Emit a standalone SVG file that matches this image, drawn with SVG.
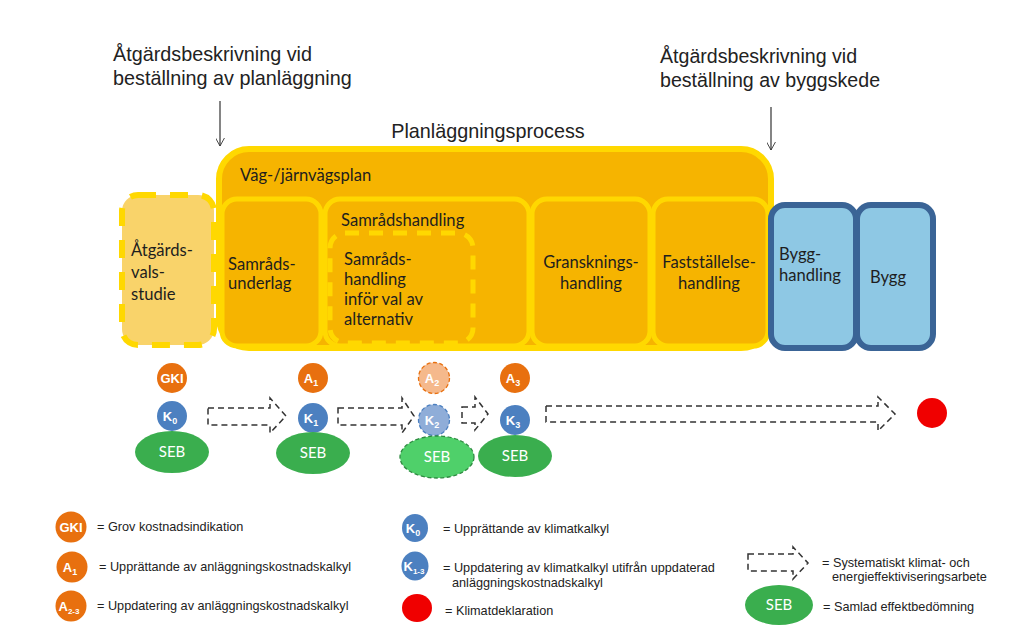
<svg xmlns="http://www.w3.org/2000/svg" width="1030" height="644" viewBox="0 0 1030 644">
<defs>
<style>
.t{font-family:"Liberation Sans",Arial,sans-serif;fill:#222}
.c{font-family:Lato,"Open Sans","Liberation Sans",sans-serif;fill:#1e1e1e;font-size:16.6px}
.w{font-family:"Liberation Sans",Arial,sans-serif;fill:#fff;font-weight:bold;font-size:13px;text-anchor:middle}
.seb{font-family:Lato,"Open Sans","Liberation Sans",sans-serif;fill:#fff;font-size:15px;text-anchor:middle}
.box{fill:#F6B400;stroke:#FFD800;stroke-width:5}
.blue{fill:#8EC8E4;stroke:#3A6496;stroke-width:6}
.or{fill:#E8700F}
.bl{fill:#4C80C0}
.gr{fill:#3AAE4E}
.da{fill:none;stroke:#333;stroke-width:1.5;stroke-dasharray:6 4}
.lg{font-family:"Liberation Sans",Arial,sans-serif;fill:#222;font-size:12.7px}
</style>
<marker id="ah" viewBox="0 0 10 10" refX="9" refY="5" markerWidth="9" markerHeight="9" markerUnits="userSpaceOnUse" orient="auto"><path d="M0,0 L9,5 L0,10" fill="none" stroke="#333" stroke-width="1"/></marker>
</defs>
<rect width="1030" height="644" fill="#fff"/>

<g id="top-labels">
<text class="t" x="113" y="61" font-size="19.8">Åtgärdsbeskrivning vid</text>
<text class="t" x="113" y="85" font-size="19.8">beställning av planläggning</text>
<text class="t" x="660" y="63" font-size="19.6">Åtgärdsbeskrivning vid</text>
<text class="t" x="660" y="87" font-size="19.6">beställning av byggskede</text>
<text class="t" x="488" y="138" font-size="19.8" text-anchor="middle">Planläggningsprocess</text>
</g>

<g id="connectors">
<line x1="220" y1="101" x2="220" y2="146" stroke="#333" stroke-width="1.2" marker-end="url(#ah)"/>
<line x1="771" y1="107" x2="771" y2="150" stroke="#333" stroke-width="1.2" marker-end="url(#ah)"/>
<path class="da" d="M208,408 H270 V398 L286,416 L270,433 V425 H208 Z"/>
<path class="da" d="M338,408 H402 V398 L414,416 L402,433 V425 H338 Z"/>
<path class="da" d="M462,407 H475 V397 L488,414 L475,430 V423 H462 Z"/>
<path class="da" d="M546,406 H878 V397 L895,414 L878,431 V422 H546 Z"/>
</g>

<g id="planlaggning">
<rect x="219" y="149" width="552" height="199" rx="30" fill="#F6B400" stroke="#FFD800" stroke-width="6"/>
<text class="c" x="240" y="181">Väg-/järnvägsplan</text>
</g>

<g id="atgardsvalsstudie">
<rect x="122" y="195" width="92" height="150" rx="16" fill="#F9D36A" stroke="#FFD800" stroke-width="6" stroke-dasharray="18 14"/>
<text class="c" x="131" y="256" font-size="16">Åtgärds-</text>
<text class="c" x="131" y="278" font-size="16">vals-</text>
<text class="c" x="131" y="300" font-size="16">studie</text>
</g>

<g id="samradsunderlag">
<rect class="box" x="222" y="199" width="99" height="147" rx="15"/>
<text class="c" x="228" y="270" font-size="16">Samråds-</text>
<text class="c" x="228" y="289" font-size="16">underlag</text>
</g>

<g id="samradshandling">
<rect class="box" x="325" y="199" width="204" height="147" rx="15"/>
<text class="c" x="341" y="226">Samrådshandling</text>
</g>

<g id="samradshandling-val">
<rect x="330" y="233" width="143" height="110" rx="15" fill="#F6B400" stroke="#FFD800" stroke-width="5" stroke-dasharray="14 10"/>
<text class="c" x="344" y="265" font-size="15">Samråds-</text>
<text class="c" x="344" y="285" font-size="15">handling</text>
<text class="c" x="344" y="305" font-size="15">inför val av</text>
<text class="c" x="344" y="325" font-size="15">alternativ</text>
</g>

<g id="granskningshandling">
<rect class="box" x="532" y="199" width="118" height="147" rx="15"/>
<text class="c" x="591" y="268" text-anchor="middle">Gransknings-</text>
<text class="c" x="591" y="289" text-anchor="middle">handling</text>
</g>

<g id="faststallelsehandling">
<rect class="box" x="653" y="199" width="115" height="147" rx="15"/>
<text class="c" x="709" y="268" text-anchor="middle">Fastställelse-</text>
<text class="c" x="709" y="289" text-anchor="middle">handling</text>
</g>

<g id="bygghandling">
<rect class="blue" x="771" y="205" width="85" height="143" rx="14"/>
<text class="c" x="779" y="260">Bygg-</text>
<text class="c" x="779" y="281">handling</text>
</g>

<g id="bygg">
<rect class="blue" x="857" y="205" width="76" height="143" rx="14"/>
<text class="c" x="888" y="283" text-anchor="middle">Bygg</text>
</g>

<g id="step0">
<circle class="or" cx="172" cy="378" r="15"/>
<text class="w" x="172" y="383">GKI</text>
<circle class="bl" cx="172" cy="416" r="15"/>
<text class="w" x="170" y="421">K<tspan font-size="9" dy="3">0</tspan></text>
<ellipse class="gr" cx="172" cy="452" rx="37" ry="21"/>
<text class="seb" x="172" y="457">SEB</text>
</g>

<g id="step1">
<circle class="or" cx="313" cy="378" r="15"/>
<text class="w" x="311" y="383">A<tspan font-size="9" dy="3">1</tspan></text>
<circle class="bl" cx="313" cy="418" r="15"/>
<text class="w" x="311" y="423">K<tspan font-size="9" dy="3">1</tspan></text>
<ellipse class="gr" cx="313" cy="453" rx="37" ry="21"/>
<text class="seb" x="313" y="458">SEB</text>
</g>

<g id="step2">
<circle cx="434" cy="378" r="15.5" fill="#F5B98C" stroke="#E8700F" stroke-width="1.3" stroke-dasharray="4 2.5"/>
<text class="w" x="432" y="383">A<tspan font-size="9" dy="3">2</tspan></text>
<circle cx="434" cy="420" r="15.5" fill="#8FADD8" stroke="#4C80C0" stroke-width="1.3" stroke-dasharray="4 2.5"/>
<text class="w" x="432" y="425">K<tspan font-size="9" dy="3">2</tspan></text>
<ellipse cx="437" cy="457" rx="37" ry="21" fill="#4FD06A" stroke="#2E8A40" stroke-width="1.3" stroke-dasharray="4 2.5"/>
<text class="seb" x="437" y="462">SEB</text>
</g>

<g id="step3">
<circle class="or" cx="515" cy="378" r="15"/>
<text class="w" x="513" y="383">A<tspan font-size="9" dy="3">3</tspan></text>
<circle class="bl" cx="515" cy="420" r="15"/>
<text class="w" x="513" y="425">K<tspan font-size="9" dy="3">3</tspan></text>
<ellipse class="gr" cx="515" cy="456" rx="37" ry="21"/>
<text class="seb" x="515" y="461">SEB</text>
</g>

<g id="klimatdeklaration">
<circle cx="932" cy="413" r="15" fill="#F00000"/>
</g>

<g id="legend">
<circle class="or" cx="71" cy="527" r="15.5"/>
<text class="w" x="71" y="532">GKI</text>
<text class="lg" x="97" y="531">= Grov kostnadsindikation</text>
<circle class="or" cx="72" cy="567" r="15.5"/>
<text class="w" x="70" y="572">A<tspan font-size="9" dy="3">1</tspan></text>
<text class="lg" x="99" y="571">= Upprättande av anläggningskostnadskalkyl</text>
<circle class="or" cx="71" cy="606" r="15.5"/>
<text class="w" x="69" y="611">A<tspan font-size="8" dy="3">2-3</tspan></text>
<text class="lg" x="97" y="610">= Uppdatering av anläggningskostnadskalkyl</text>

<ellipse class="bl" cx="415" cy="528" rx="13" ry="14"/>
<text class="w" x="413" y="533" font-weight="normal">K<tspan font-size="9" dy="3">0</tspan></text>
<text class="lg" x="443" y="533">= Upprättande av klimatkalkyl</text>
<ellipse class="bl" cx="415" cy="566" rx="13.5" ry="14.5"/>
<text class="w" x="414" y="571" font-weight="normal">K<tspan font-size="8" dy="3">1-3</tspan></text>
<text class="lg" x="443" y="572">= Uppdatering av klimatkalkyl utifrån uppdaterad</text>
<text class="lg" x="452" y="587">anläggningskostnadskalkyl</text>
<ellipse cx="417" cy="608" rx="15" ry="14" fill="#F00000"/>
<text class="lg" x="445" y="615">= Klimatdeklaration</text>

<path class="da" d="M748,554 H793 V547 L808,563 L793,579 V571 H748 Z"/>
<text class="lg" x="822" y="567">= Systematiskt klimat- och</text>
<text class="lg" x="832" y="581">energieffektiviseringsarbete</text>
<ellipse class="gr" cx="779" cy="605" rx="34" ry="20"/>
<text class="seb" x="779" y="610">SEB</text>
<text class="lg" x="823" y="611">= Samlad effektbedömning</text>
</g>
</svg>
